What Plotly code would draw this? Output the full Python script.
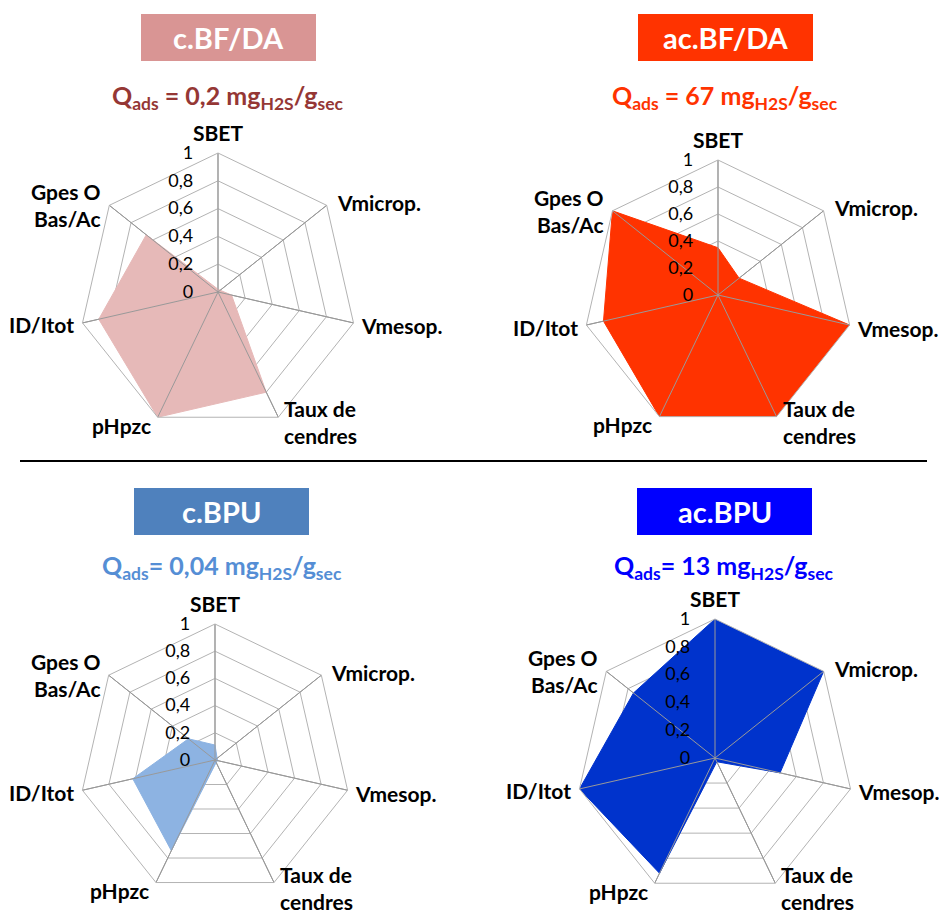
import math
import plotly.graph_objects as go

W, H = 939, 910

categories = ["SBET", "Vmicrop.", "Vmesop.", "Taux de<br>cendres", "pHpzc", "ID/Itot", "Gpes O<br>Bas/Ac"]

titles = ["c.BF/DA", "ac.BF/DA", "c.BPU", "ac.BPU"]
qads_values = ["0,2", "67", "0,04", "13"]
qads_sep = [" = ", " = ", "= ", "= "]

vals_cBFDA = [0.02, 0.02, 0.10, 0.80, 1.00, 0.88, 0.66]
vals_acBFDA = [0.35, 0.20, 1.00, 1.00, 1.00, 0.87, 1.00]
vals_cBPU = [0.11, 0.02, 0.02, 0.02, 0.74, 0.62, 0.25]
vals_acBPU = [1.00, 1.00, 0.48, 0.03, 0.92, 1.00, 0.75]
series = [vals_cBFDA, vals_acBFDA, vals_cBPU, vals_acBPU]

tick_vals = [0, 0.2, 0.4, 0.6, 0.8, 1]
tick_text = ["0", "0,2", "0,4", "0,6", "0,8", "1"]

fill_colors = ["#e6b9b8", "#ff3300", "#8db3e2", "#0033cc"]
box_colors = ["#d99594", "#ff3300", "#4f81bd", "#0000ff"]
q_colors = ["#953735", "#ff3300", "#558ed5", "#0000ff"]

FONT = "Lato"
GRID = "#b3b3b3"
SPOKE = "#999999"

# geometry in window pixels
centers = [(218, 292, 139), (718, 295, 135), (215, 760, 136), (715, 758, 139)]
boxes = [(141, 316, 14, 61), (638, 813, 14, 61), (134, 309, 488, 535), (637, 812, 488, 535)]
qpos = [(227, 97), (725, 97), (222, 567), (724, 567)]
# category label placement relative to the outer vertex: (xanchor, dx, dy)
label_place = [("center", 0, -21), ("left", 8, -3), ("left", 5, 3), ("left", 4, 5),
               ("right", -5, 8), ("right", -6, 2), ("right", -6, 0)]


def px(x):
    return x / W


def py(y):
    return 1 - y / H


fig = go.Figure()
layout = dict(
    width=W, height=H, margin=dict(l=0, r=0, t=0, b=0),
    paper_bgcolor="white", plot_bgcolor="white", showlegend=False,
    font=dict(family=FONT, color="black"),
    shapes=[], annotations=[],
)

n = len(categories)
for i, vals in enumerate(series):
    pid = "polar" if i == 0 else f"polar{i+1}"
    fig.add_trace(go.Scatterpolar(
        r=vals + [vals[0]], theta=categories + [categories[0]],
        mode="lines", fill="toself", fillcolor=fill_colors[i],
        line=dict(color=fill_colors[i], width=1), subplot=pid, hoverinfo="skip",
    ))
    # category axis spokes drawn on top of the filled area
    for c in categories:
        fig.add_trace(go.Scatterpolar(
            r=[0, 1], theta=[c, c], mode="lines",
            line=dict(color=SPOKE, width=1), subplot=pid, hoverinfo="skip",
        ))
    cx, cy, r = centers[i]
    layout[pid] = dict(
        domain=dict(x=[px(cx - r), px(cx + r)], y=[py(cy + r), py(cy - r)]),
        bgcolor="white",
        gridshape="linear",
        radialaxis=dict(
            range=[0, 1], tickvals=tick_vals, ticktext=tick_text, angle=90,
            side="counterclockwise", showline=False, ticks="outside", ticklen=18,
            tickcolor="rgba(0,0,0,0)",
            gridcolor=GRID, gridwidth=1, tickangle=90,
            tickfont=dict(size=18, color="black", family=FONT),
        ),
        angularaxis=dict(
            direction="clockwise", rotation=90, categoryorder="array", categoryarray=categories,
            showticklabels=False,
            showline=True, linecolor=GRID, linewidth=1,
            gridcolor=SPOKE, gridwidth=1, ticks="",
        ),
    )
    # category labels placed next to each outer vertex (Excel-style)
    for k, c in enumerate(categories):
        ang = math.radians(90 - k * 360 / n)
        vx, vy = cx + r * math.cos(ang), cy - r * math.sin(ang)
        xa, dx, dy = label_place[k]
        layout["annotations"].append(dict(
            xref="paper", yref="paper", x=px(vx + dx), y=py(vy + dy),
            text=f"<b>{c}</b>", showarrow=False, xanchor=xa, yanchor="middle",
            align=xa if xa != "center" else "center",
            font=dict(size=21, color="black", family=FONT)))
    x0, x1, y0, y1 = boxes[i]
    layout["shapes"].append(dict(type="rect", xref="paper", yref="paper",
                                 x0=px(x0), x1=px(x1), y0=py(y1), y1=py(y0),
                                 fillcolor=box_colors[i], line=dict(width=0)))
    layout["annotations"].append(dict(
        xref="paper", yref="paper", x=px((x0 + x1) / 2), y=py((y0 + y1) / 2),
        text=f"<b>{titles[i]}</b>", showarrow=False, xanchor="center", yanchor="middle",
        font=dict(size=29, color="white", family=FONT)))
    qx, qy = qpos[i]
    layout["annotations"].append(dict(
        xref="paper", yref="paper", x=px(qx), y=py(qy),
        text=f"<b>Q<sub>ads</sub>{qads_sep[i]}{qads_values[i]} mg<sub>H2S</sub>/g<sub>sec</sub></b>",
        showarrow=False, xanchor="center", yanchor="middle",
        font=dict(size=25, color=q_colors[i], family=FONT)))

layout["shapes"].append(dict(type="line", xref="paper", yref="paper",
                             x0=px(20), x1=px(927), y0=py(461), y1=py(461),
                             line=dict(color="black", width=2)))

fig.update_layout(**layout)
fig.write_html(
    "out.html",
    config={"displayModeBar": False},
    post_script="document.body.style.margin='0';document.body.style.overflow='hidden';",
)
